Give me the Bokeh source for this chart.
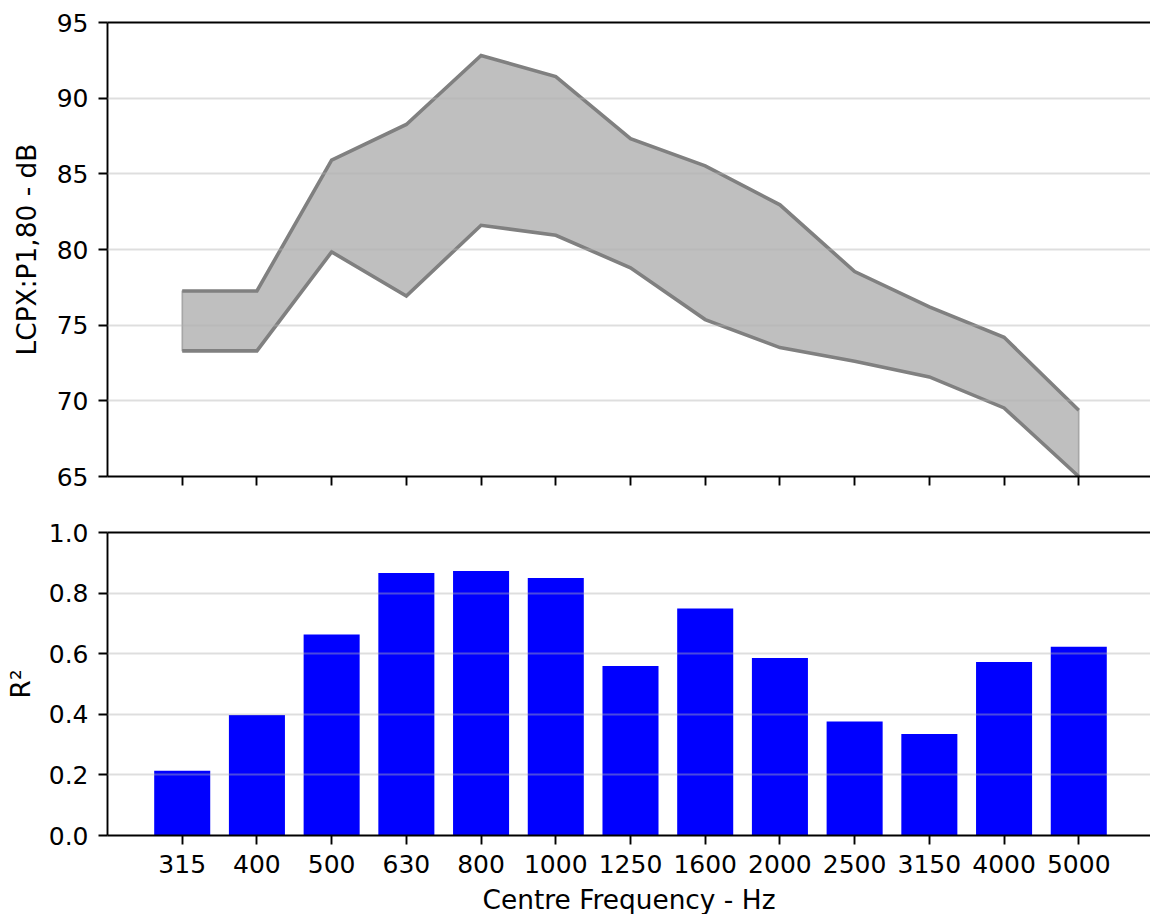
from bokeh.plotting import figure
from bokeh.layouts import column
from bokeh.models import FixedTicker, LinearAxis, Range1d, PrintfTickFormatter, ColumnDataSource
from bokeh.embed import file_html
from bokeh.resources import INLINE

# ---- data ----
freqs = ["315", "400", "500", "630", "800", "1000", "1250", "1600",
         "2000", "2500", "3150", "4000", "5000"]
upper = [77.26, 77.26, 85.9, 88.26, 92.82, 91.43, 87.33, 85.53,
         82.95, 78.54, 76.21, 74.2, 69.38]
lower = [73.3, 73.3, 79.84, 76.93, 81.6, 80.94, 78.79, 75.37,
         73.52, 72.62, 71.58, 69.53, 65.0]
r2 = [0.214, 0.398, 0.663, 0.866, 0.873, 0.850, 0.559, 0.749,
      0.586, 0.376, 0.335, 0.573, 0.623]
top_ticks = [65, 70, 75, 80, 85, 90, 95]
bot_ticks = [0.0, 0.2, 0.4, 0.6, 0.8, 1.0]

x = list(range(len(freqs)))
FONT = "DejaVu Sans"
FS = "25px"
LFS = "26.4px"
LEFT = 107
FW = 1043

xr = Range1d(-1, 12.96)


def style_axis(ax):
    ax.axis_line_color = "black"
    ax.axis_line_width = 1.9
    ax.major_tick_line_color = "black"
    ax.major_tick_line_width = 1.9
    ax.major_tick_out = 9
    ax.major_tick_in = 0
    ax.minor_tick_line_color = None
    ax.major_label_text_font = FONT
    ax.major_label_text_font_size = FS
    ax.major_label_text_color = "black"
    ax.axis_label_text_font = FONT
    ax.axis_label_text_font_size = LFS
    ax.axis_label_text_font_style = "normal"
    ax.axis_label_text_color = "black"


def make_fig(height, frame_h, top_border, bottom_border, yr):
    p = figure(width=LEFT + FW, height=height, frame_width=FW, frame_height=frame_h,
               x_range=xr, y_range=yr, output_backend="svg", toolbar_location=None,
               min_border_left=LEFT, min_border_right=0, min_border_top=top_border,
               min_border_bottom=bottom_border, outline_line_color=None,
               background_fill_color="white", border_fill_color="white")
    p.xgrid.grid_line_color = None
    p.ygrid.grid_line_color = "#b0b0b0"
    p.ygrid.grid_line_alpha = 0.42
    p.ygrid.grid_line_width = 1.8
    p.ygrid.level = "overlay"
    xa = p.below[0]
    ya = p.left[0]
    style_axis(xa)
    style_axis(ya)
    xa.ticker = FixedTicker(ticks=x)
    # top spine (no ticks, no labels)
    top = LinearAxis(ticker=FixedTicker(ticks=[]), major_label_standoff=0,
                     major_tick_out=0, major_tick_in=0,
                     axis_line_color="black", axis_line_width=1.9,
                     minor_tick_line_color=None)
    p.add_layout(top, "above")
    return p, xa, ya


# ---- top panel ----
p1, xa1, ya1 = make_fig(504, 454, 22, 28, Range1d(65, 95))
ya1.ticker = FixedTicker(ticks=top_ticks)
ya1.formatter = PrintfTickFormatter(format="%d")
ya1.major_label_standoff = 10
ya1.axis_label = "LCPX:P1,80 - dB"
ya1.axis_label_standoff = 12
xa1.major_label_overrides = {i: "" for i in x}
xa1.major_label_standoff = 0

src = ColumnDataSource(dict(x=x, upper=upper, lower=lower))
p1.patch(x + x[::-1], upper + lower[::-1], fill_color="gray", fill_alpha=0.5,
         line_color="gray", line_alpha=0.5, line_width=1.8)
p1.line("x", "upper", source=src, line_color="gray", line_width=3.6, line_join="miter")
p1.line("x", "lower", source=src, line_color="gray", line_width=3.6, line_join="miter")

# ---- bottom panel ----
p2, xa2, ya2 = make_fig(410, 303, 28, 79, Range1d(0, 1))
ya2.ticker = FixedTicker(ticks=bot_ticks)
ya2.formatter = PrintfTickFormatter(format="%.1f")
ya2.major_label_standoff = 10
ya2.axis_label = "R\u00b2"
ya2.axis_label_standoff = 10
xa2.major_label_overrides = {i: f for i, f in zip(x, freqs)}
xa2.major_label_standoff = 10
xa2.axis_label = "Centre Frequency - Hz"
xa2.axis_label_standoff = 8

bsrc = ColumnDataSource(dict(x=x, r2=r2))
p2.vbar(x="x", top="r2", bottom=0, width=0.75, source=bsrc,
        fill_color="blue", line_color=None)

layout = column(p1, p2, spacing=0)

open("out.html", "w").write(file_html(layout, INLINE))
